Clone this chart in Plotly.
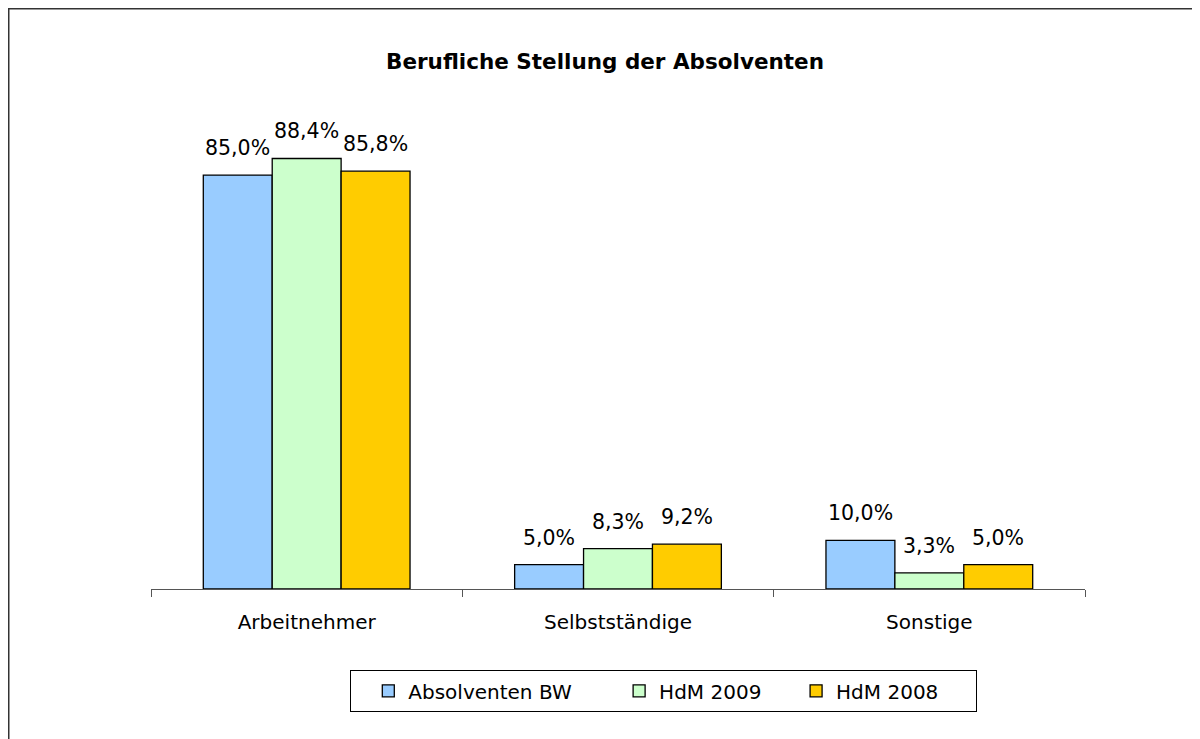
import plotly.graph_objects as go

categories = ["Arbeitnehmer", "Selbstständige", "Sonstige"]
series_names = ["Absolventen BW", "HdM 2009", "HdM 2008"]
bw_values = [85.0, 5.0, 10.0]
hdm2009_values = [88.4, 8.3, 3.3]
hdm2008_values = [85.8, 9.2, 5.0]
colors = ["#99CCFF", "#CCFFCC", "#FFCC00"]
legend_pad = [4, 2, 5]  # trailing non-breaking spaces for legend spacing

FONT = "DejaVu Sans"

def fmt(v):
    return f"{v:.1f}".replace(".", ",") + "%"

# page is offset by the 8px body margin; figure coordinates below
L, R, T, B = 143, 1077, 94, 581
pw, ph = R - L, B - T
BAR_PX = 69

fig = go.Figure()
all_vals = [bw_values, hdm2009_values, hdm2008_values]
for name, vals, col, pad in zip(series_names, all_vals, colors, legend_pad):
    fig.add_trace(go.Bar(
        x=categories, y=vals, name=name + "\u00a0" * pad,
        marker=dict(color=col, line=dict(color="#000000", width=1.3)),
        cliponaxis=False,
    ))

annotations = []
for i, vals in enumerate(all_vals):
    for cat, v in zip(categories, vals):
        annotations.append(dict(
            x=cat, y=v, xref="x", yref="y", text=fmt(v), showarrow=False,
            xanchor="center", yanchor="bottom",
            xshift=(i - 1) * BAR_PX, yshift=13,
            font=dict(size=20.5, color="#000000", family=FONT),
        ))

fig.update_layout(
    width=1200, height=739,
    margin=dict(l=L, r=1200 - R, t=T, b=739 - B),
    paper_bgcolor="white", plot_bgcolor="white",
    barmode="group", bargap=0.336, bargroupgap=0,
    font=dict(family=FONT, color="#000000"),
    title=dict(text="<b>Berufliche Stellung der Absolventen</b>",
               x=597 / 1200, xanchor="center", y=1 - 53 / 739, yanchor="middle",
               font=dict(size=21.5, color="#000000", family=FONT)),
    xaxis=dict(showline=True, linecolor="#555555", linewidth=1.3,
               ticks="outside", tickson="boundaries", ticklen=7, tickcolor="#555555",
               ticklabelstandoff=15,
               tickfont=dict(size=20, color="#000000", family=FONT), showgrid=False),
    yaxis=dict(range=[0, 100], visible=False),
    legend=dict(orientation="h", x=(342 - L) / pw, xanchor="left",
                y=-(662 - B) / ph, yanchor="top",
                bordercolor="#000000", borderwidth=1.3,
                font=dict(size=20, color="#000000", family=FONT),
                itemwidth=30, indentation=17),
    showlegend=True,
    annotations=annotations,
)

fig.add_shape(type="rect", xref="paper", yref="paper",
              x0=(0.75 - L) / pw, x1=(1230 - L) / pw,
              y0=(B - 0.75) / ph, y1=(B - 760) / ph,
              line=dict(color="#333333", width=1.5), fillcolor="rgba(0,0,0,0)",
              layer="below")

fig.write_html("out.html")
